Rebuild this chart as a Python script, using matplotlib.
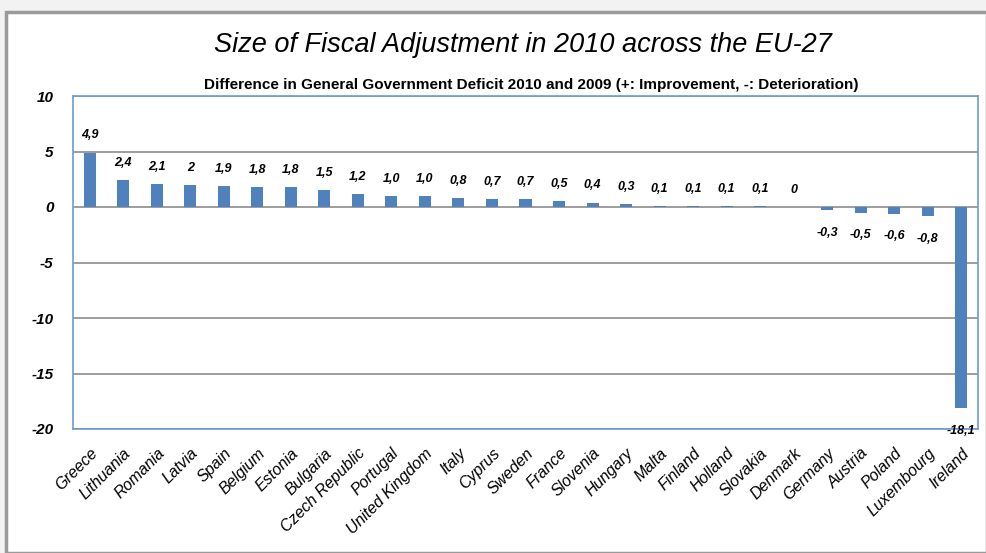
import matplotlib
matplotlib.use("Agg")
import matplotlib.pyplot as plt
from matplotlib.patches import Rectangle

countries = ["Greece", "Lithuania", "Romania", "Latvia", "Spain", "Belgium", "Estonia",
             "Bulgaria", "Czech Republic", "Portugal", "United Kingdom", "Italy", "Cyprus",
             "Sweden", "France", "Slovenia", "Hungary", "Malta", "Finland", "Holland",
             "Slovakia", "Denmark", "Germany", "Austria", "Poland", "Luxembourg", "Ireland"]
values = [4.9, 2.4, 2.1, 2.0, 1.9, 1.8, 1.8, 1.5, 1.2, 1.0, 1.0, 0.8, 0.7, 0.7, 0.5, 0.4,
          0.3, 0.1, 0.1, 0.1, 0.1, 0.0, -0.3, -0.5, -0.6, -0.8, -18.1]
value_labels = ["4,9", "2,4", "2,1", "2", "1,9", "1,8", "1,8", "1,5", "1,2", "1,0", "1,0",
                "0,8", "0,7", "0,7", "0,5", "0,4", "0,3", "0,1", "0,1", "0,1", "0,1", "0",
                "-0,3", "-0,5", "-0,6", "-0,8", "-18,1"]
yticks = [-20, -15, -10, -5, 0, 5, 10]

plt.rcParams['font.family'] = ['Liberation Sans', 'DejaVu Sans']

fig = plt.figure(figsize=(9.87, 5.53), dpi=100)
fig.patch.set_facecolor("#f2f2f2")
# chart frame
frame = Rectangle((6/987, 0), 1 - 6/987, 1 - 12/553, transform=fig.transFigure,
                  facecolor="white", edgecolor="#9a9a9a", linewidth=2.5, zorder=-5)
fig.add_artist(frame)

ax = fig.add_axes([73/987, 1 - 429/553, (978 - 73)/987, (429 - 96)/553])
ax.set_zorder(5)
x = list(range(len(countries)))
ax.bar(x, values, width=0.36, color="#4f81bd", zorder=3)
ax.set_xlim(-0.5, len(countries) - 0.5)
ax.set_ylim(-20, 10)
ax.set_yticks(yticks)
ax.set_yticklabels([str(t) for t in yticks], fontsize=11, fontweight="bold", fontstyle="italic")
ax.yaxis.grid(True, color="#8c8c8c", linewidth=1.2, zorder=0)
ax.set_axisbelow(True)
ax.tick_params(axis="y", length=0, pad=14)
ax.tick_params(axis="x", length=0, pad=12)
for s in ax.spines.values():
    s.set_color("#6f9ad0")
    s.set_linewidth(1.2)
ax.set_xticks(x)
ax.set_xticklabels(countries, rotation=45, ha="right", rotation_mode="anchor",
                   fontsize=11.5, fontstyle="italic")

for xi, v, lab in zip(x, values, value_labels):
    if v >= 0:
        ax.annotate(lab, (xi, v), xytext=(0, 8), textcoords="offset points", ha="center",
                    va="bottom", fontsize=9, fontweight="bold", fontstyle="italic")
    else:
        ax.annotate(lab, (xi, v), xytext=(0, -12), textcoords="offset points", ha="center",
                    va="top", fontsize=9, fontweight="bold", fontstyle="italic")

fig.text(0.53, 0.918, "Size of Fiscal Adjustment in 2010 across the EU-27", ha="center",
         va="center", fontsize=19.5, fontstyle="italic")
fig.text(0.538, 0.847, "Difference in General Government Deficit 2010 and 2009 (+: Improvement, -: Deterioration)",
         ha="center", va="center", fontsize=11, fontweight="bold")

fig.savefig("out.png", dpi=100, facecolor=fig.get_facecolor())
